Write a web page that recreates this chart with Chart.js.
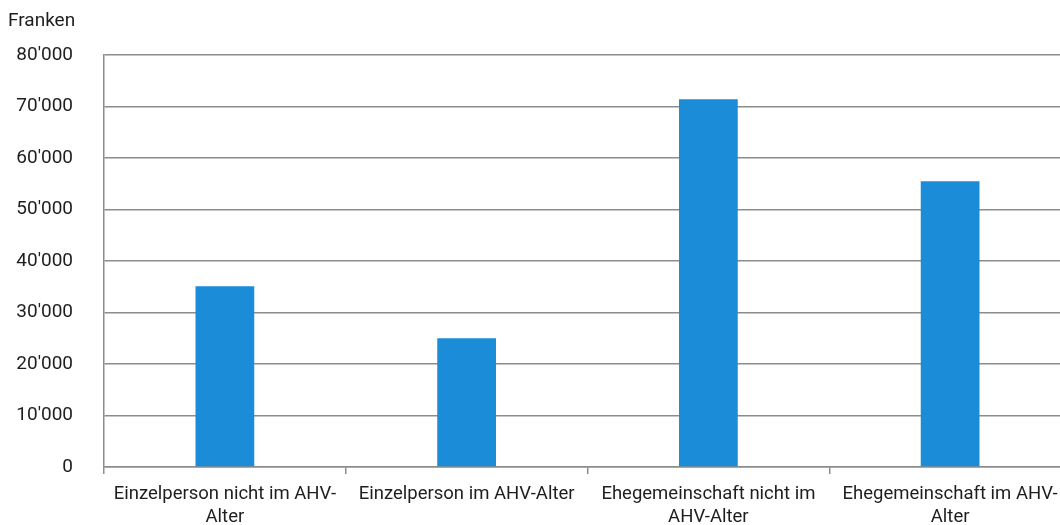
<!DOCTYPE html>
<html>
<head>
<meta charset="utf-8">
<script src="https://cdn.jsdelivr.net/npm/chart.js@4"></script>
<style>
  html, body { margin: 0; padding: 0; background: #fff; overflow: hidden; }
  #wrap { width: 1072px; height: 529px; position: relative; }
</style>
</head>
<body>
<div id="wrap"><canvas id="chart"></canvas></div>
<script>
const categories = [
    ['Einzelperson nicht im AHV-', 'Alter'],
    ['Einzelperson im AHV-Alter'],
    ['Ehegemeinschaft nicht im', 'AHV-Alter'],
    ['Ehegemeinschaft im AHV-', 'Alter']
];
const values = [35100, 25000, 71400, 55500];
const yTicks = [0, 10000, 20000, 30000, 40000, 50000, 60000, 70000, 80000];
const unitLabel = 'Franken';

const textColor = '#1e1e1e';
const gridColor = '#8c8c8c';
const fontFamily = 'Roboto, "Noto Sans", sans-serif';

function fmt(v) {
    // swiss thousands separator
    return String(v).replace(/\B(?=(\d{3})+(?!\d))/g, "'");
}

const ctx = document.getElementById('chart').getContext('2d');
new Chart(ctx, {
    type: 'bar',
    data: {
        labels: categories,
        datasets: [{
            data: values,
            backgroundColor: '#1a8cd8',
            categoryPercentage: 1,
            barPercentage: 0.243
        }]
    },
    options: {
        responsive: true,
        maintainAspectRatio: false,
        animation: false,
        layout: { padding: { left: 8, right: 1, bottom: 0 } },
        plugins: {
            legend: { display: false },
            tooltip: { enabled: false },
            title: {
                display: true,
                text: unitLabel,
                align: 'start',
                color: textColor,
                font: { family: fontFamily, size: 19, weight: 'normal', lineHeight: 1.2 },
                padding: { top: 10, bottom: 22.2 }
            }
        },
        scales: {
            x: {
                offset: true,
                afterFit: (scale) => { scale.height = 62; },
                grid: {
                    offset: true,
                    drawOnChartArea: false,
                    drawTicks: true,
                    tickLength: 7,
                    color: gridColor,
                    lineWidth: 1.5
                },
                border: { color: gridColor, width: 1.5 },
                ticks: {
                    color: textColor,
                    font: { family: fontFamily, size: 18.5, lineHeight: 1.243 },
                    maxRotation: 0,
                    autoSkip: false,
                    padding: 9
                }
            },
            y: {
                min: 0,
                max: 80000,
                afterBuildTicks: (scale) => {
                    scale.ticks = yTicks.map(v => ({ value: v }));
                },
                afterFit: (scale) => { scale.width = 96; },
                grid: {
                    drawTicks: false,
                    color: gridColor,
                    lineWidth: 1.5
                },
                border: { color: gridColor, width: 1.5 },
                ticks: {
                    color: textColor,
                    font: { family: fontFamily, size: 19 },
                    padding: 31,
                    callback: (v) => fmt(v)
                }
            }
        }
    }
});
</script>
</body>
</html>
